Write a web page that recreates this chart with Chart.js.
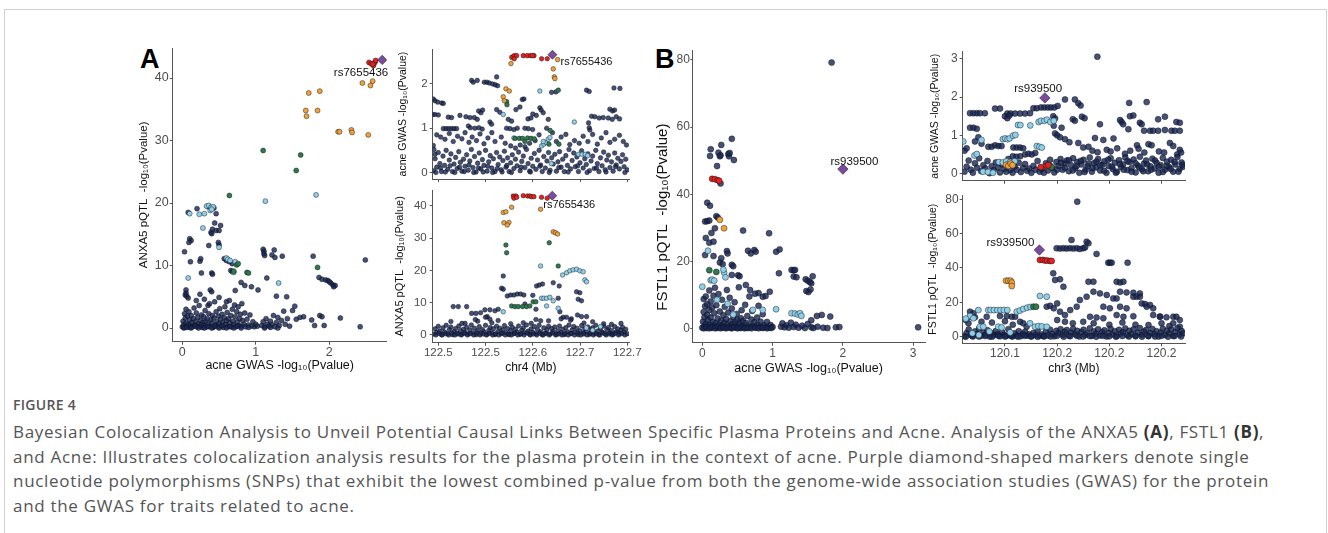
<!DOCTYPE html>
<html>
<head>
<meta charset="utf-8">
<script src="https://cdn.jsdelivr.net/npm/chart.js@4.4.1/dist/chart.umd.min.js"></script>
<style>
  html, body { margin: 0; padding: 0; background: #fff; }
  body { width: 1328px; height: 533px; position: relative; overflow: hidden; }
  .frame { position: absolute; left: 4px; top: 9px; width: 1323px; height: 540px; border: 1px solid #d2d2d2; box-sizing: border-box; }
  canvas { position: absolute; }
  .tag { position: absolute; font: bold 27px/1 "Liberation Sans", Arial, sans-serif; color: #000; }
  .figno { position: absolute; left: 13px; top: 397px; font: 600 14px/16px "Open Sans", sans-serif; color: #555; letter-spacing: 0.3px; }
  .caption { position: absolute; left: 13px; top: 420px; font: 17px/24.7px "Open Sans", sans-serif; color: #555; white-space: nowrap; letter-spacing: 0.7px; }
  .caption b { color: #333; }
</style>
</head>
<body>
<div class="frame"></div>
<div class="tag" style="left:140px;top:46px">A</div>
<div class="tag" style="left:655px;top:46px">B</div>
<div class="figno">FIGURE 4</div>
<div class="caption">Bayesian Colocalization Analysis to Unveil Potential Causal Links Between Specific Plasma Proteins and Acne. Analysis of the ANXA5 <b>(A)</b>, FSTL1 <b>(B)</b>,<br>and Acne: Illustrates colocalization analysis results for the plasma protein in the context of acne. Purple diamond-shaped markers denote single<br>nucleotide polymorphisms (SNPs) that exhibit the lowest combined p-value from both the genome-wide association studies (GWAS) for the protein<br>and the GWAS for traits related to acne.</div>

<script>
// ---- tick values / labels ----
const gwasTicksA = [0, 1, 2];
const pqtlTicksA = [0, 10, 20, 30, 40];
const gwasRightTicksA = [0, 1, 2];
const chr4Ticks = [122.48, 122.54, 122.60, 122.66, 122.72];
const chr4Labels = ['122.5', '122.5', '122.6', '122.7', '122.7'];
const gwasTicksB = [0, 1, 2, 3];
const pqtlTicksB = [0, 20, 40, 60, 80];
const chr3Ticks = [120.14, 120.16, 120.18, 120.20];
const chr3Labels = ['120.1', '120.2', '120.2', '120.2'];

// ---- A: acne GWAS (x) vs ANXA5 pQTL (y) ----
const aLead = [[2.72, 42.9]];
const aRed = [[2.54, 42.5], [2.57, 42.3], [2.6, 42.0], [2.62, 42.5], [2.63, 42.8], [2.59, 42.2]];
const aOrange = [[2.45, 39.2], [2.59, 39.5], [2.56, 38.8], [1.72, 37.6], [1.87, 37.9], [1.68, 34.8], [1.69, 33.9], [1.84, 34.8], [2.12, 31.4], [2.14, 31.4], [2.3, 31.7], [2.31, 31.3], [2.53, 30.9]];
const aGreen = [[1.1, 28.4], [1.61, 27.7], [1.55, 25.2], [0.64, 21.2], [0.74, 10.1], [0.76, 10.3], [0.88, 8.9], [0.9, 8.8], [0.7, 9.1], [1.84, 9.7]];
const aLblue = [[0.1, 18.3], [0.23, 18.2], [0.3, 18.3], [0.33, 19.5], [0.36, 19.6], [0.39, 19.3], [0.42, 19.4], [0.38, 18.8], [0.4, 19.0], [0.28, 16.0], [0.5, 12.9], [0.6, 11.2], [0.62, 11.0], [0.65, 10.8], [0.72, 10.6], [0.08, 8.0], [0.7, 8.9], [1.13, 20.3], [1.82, 21.3], [1.31, 7.2]];
const aNavy = [
  [0.08, 18.5], [0.2, 19.1], [0.35, 19.4], [0.46, 18.3], [0.43, 19.2], [0.1, 14.3], [0.12, 14.0], [0.09, 13.7], [0.03, 12.2],
  [0.11, 10.6], [0.24, 10.7], [0.25, 11.1], [0.26, 8.8], [0.4, 8.8], [0.41, 8.6], [0.39, 15.3], [0.41, 15.8], [0.46, 15.6],
  [0.5, 15.6], [0.4, 15.1], [0.52, 16.4], [0.44, 16.8], [0.36, 13.2], [0.49, 13.7], [0.5, 13.3], [0.57, 11.1], [0.6, 10.8],
  [0.64, 10.6], [0.68, 10.3], [0.66, 9.2], [0.68, 9.0], [1.1, 12.6], [1.11, 12.3], [1.11, 11.9], [1.12, 11.6], [1.25, 12.5],
  [1.22, 11.7], [1.26, 11.3], [1.36, 11.5], [1.78, 11.5], [2.49, 10.9], [1.86, 8.1], [1.9, 7.8], [1.95, 7.7], [1.98, 7.6],
  [2.02, 7.2], [2.05, 6.9], [2.08, 6.8], [2.06, 6.6], [2.0, 7.4], [1.15, 8.0], [1.03, 6.1], [0.85, 6.8], [0.94, 6.6],
  [0.72, 6.0], [0.8, 7.3], [1.28, 5.1], [1.42, 5.0], [1.53, 3.5], [1.6, 1.7], [1.65, 1.8], [1.76, 1.3], [1.8, 0.4],
  [1.87, 2.0], [1.9, 1.8], [1.93, 0.4], [2.15, 1.6], [2.42, 0.2], [0.04, 5.3], [0.05, 5.6], [0.06, 5.1], [0.05, 6.1],
  [0.08, 4.8], [0.24, 5.4], [0.38, 6.1], [0.4, 5.8], [0.19, 4.4], [0.3, 4.6], [0.5, 4.9], [0.6, 4.2], [0.35, 3.6],
  [0.0, 0.2], [0.01, 1.1], [0.02, 0.5], [0.03, 2.3], [0.03, 0.1], [0.04, 1.6], [0.05, 0.8], [0.05, 3.0], [0.06, 0.3],
  [0.07, 1.9], [0.08, 0.6], [0.09, 2.6], [0.1, 0.1], [0.1, 1.3], [0.11, 0.4], [0.12, 2.0], [0.13, 0.9], [0.14, 0.2],
  [0.15, 1.5], [0.16, 3.2], [0.17, 0.5], [0.18, 1.0], [0.19, 2.4], [0.2, 0.2], [0.21, 1.7], [0.22, 0.7], [0.23, 3.6],
  [0.24, 0.3], [0.25, 1.2], [0.26, 2.1], [0.27, 0.1], [0.28, 0.9], [0.29, 1.8], [0.3, 0.4], [0.31, 2.8], [0.32, 1.1],
  [0.33, 0.2], [0.34, 1.5], [0.35, 0.6], [0.36, 2.3], [0.37, 3.9], [0.38, 0.3], [0.39, 1.3], [0.4, 0.8], [0.41, 2.0],
  [0.42, 0.1], [0.43, 1.6], [0.44, 4.2], [0.45, 0.5], [0.46, 2.6], [0.47, 1.0], [0.48, 0.2], [0.49, 1.9], [0.5, 0.7],
  [0.51, 3.1], [0.52, 1.4], [0.53, 0.3], [0.54, 2.2], [0.55, 0.9], [0.56, 0.1], [0.57, 1.7], [0.58, 3.4], [0.59, 0.6],
  [0.6, 1.2], [0.61, 2.5], [0.62, 0.3], [0.63, 1.5], [0.64, 4.4], [0.65, 0.8], [0.66, 2.0], [0.67, 0.2], [0.68, 3.0],
  [0.69, 1.1], [0.7, 0.5], [0.71, 3.7], [0.72, 1.8], [0.73, 0.2], [0.74, 2.6], [0.75, 1.0], [0.76, 3.4], [0.77, 0.4],
  [0.78, 1.5], [0.79, 2.2], [0.8, 0.3], [0.81, 3.9], [0.82, 1.2], [0.84, 0.6], [0.85, 2.4], [0.86, 0.2], [0.88, 1.4],
  [0.9, 0.5], [0.92, 2.1], [0.94, 0.3], [0.96, 1.0], [0.98, 0.2], [1.0, 0.6], [1.02, 0.3], [1.08, 0.4], [1.1, 1.0],
  [1.12, 0.2], [1.14, 1.5], [1.16, 0.6], [1.18, 0.3], [1.2, 1.1], [1.22, 0.5], [1.24, 2.0], [1.26, 0.2], [1.28, 0.9],
  [1.3, 1.7], [1.32, 0.4], [1.35, 1.2], [1.38, 2.7], [1.4, 0.6], [1.43, 1.5], [1.46, 0.3], [1.5, 2.8], [1.55, 1.4],
  [0.02, 0.0], [0.06, 0.1], [0.12, 0.0], [0.18, 0.3], [0.22, 0.0], [0.26, 0.5], [0.3, 0.0], [0.35, 0.2], [0.4, 0.0],
  [0.44, 0.3], [0.5, 0.0], [0.54, 0.4], [0.6, 0.0], [0.65, 0.2], [0.7, 0.0], [0.75, 0.3], [0.8, 0.0], [0.9, 0.1],
  [1.12, 0.0], [1.2, 0.1], [1.3, 0.0]
];

// ---- A: chr4 position (x) vs acne GWAS (y) ----
const atLead = [[122.625, 2.66]];
const atRed = [[122.5744, 2.61], [122.5765, 2.64], [122.5795, 2.64], [122.5765, 2.57], [122.5879, 2.64], [122.593, 2.64], [122.5972, 2.64], [122.6015, 2.64], [122.5995, 2.64], [122.6112, 2.57], [122.6184, 2.57]];
const atOrange = [[122.5731, 2.6], [122.5723, 2.46], [122.5659, 1.89], [122.5702, 1.84], [122.5625, 1.71], [122.5638, 1.62], [122.626, 2.34], [122.6273, 2.16], [122.6281, 2.12], [122.6315, 2.55]];
const atGreen = [[122.5668, 1.6], [122.5672, 1.53], [122.6324, 1.86], [122.5774, 0.77], [122.5829, 0.77], [122.5871, 0.77], [122.5934, 0.78], [122.5977, 0.77], [122.6019, 0.76], [122.59, 0.7], [122.6205, 0.64], [122.6332, 0.64], [122.622, 0.95]];
const atLblue = [[122.5625, 1.31], [122.609, 1.84], [122.6527, 1.14], [122.6112, 0.6], [122.6142, 0.64], [122.6167, 0.68], [122.6197, 0.75], [122.6218, 0.79], [122.6133, 0.7], [122.658, 0.41], [122.6625, 0.41], [122.6667, 0.41], [122.6697, 0.38], [122.6235, 0.2], [122.576, 0.78]];
const atNavy = [
  [122.4737, 1.66], [122.4758, 1.62], [122.4792, 1.59], [122.4843, 1.57], [122.4864, 1.56], [122.4729, 1.31], [122.4758, 1.31],
  [122.4801, 1.3], [122.4927, 1.25], [122.4969, 1.24], [122.4864, 0.99], [122.4898, 0.99], [122.4932, 0.99], [122.4966, 0.99],
  [122.5, 0.99], [122.5033, 0.99], [122.4737, 0.61], [122.4745, 0.52], [122.4758, 0.41], [122.5223, 2.08], [122.5244, 2.04],
  [122.5295, 2.08], [122.5384, 2.04], [122.5418, 2.04], [122.5448, 2.02], [122.549, 2.0], [122.5524, 1.98], [122.5554, 1.96],
  [122.5541, 2.16], [122.5312, 1.39], [122.5342, 1.35], [122.5363, 1.41], [122.5075, 1.29], [122.5151, 1.26], [122.5202, 1.24],
  [122.5257, 1.24], [122.5295, 1.2], [122.5182, 1.05], [122.5207, 1.01], [122.5456, 1.14], [122.5477, 1.09], [122.5541, 1.42],
  [122.5583, 1.36], [122.5786, 1.42], [122.5837, 1.48], [122.5867, 1.65], [122.5888, 1.66], [122.5689, 1.2], [122.5731, 1.16],
  [122.5939, 1.21], [122.5977, 1.23], [122.6, 1.32], [122.6045, 1.29], [122.609, 1.46], [122.6107, 1.41], [122.6133, 1.35],
  [122.6239, 1.81], [122.6294, 1.82], [122.6683, 1.86], [122.6717, 1.83], [122.7031, 1.91], [122.7107, 1.9], [122.6747, 1.27],
  [122.6789, 1.26], [122.6844, 1.23], [122.6895, 1.24], [122.6958, 1.23], [122.7009, 1.2], [122.706, 1.26], [122.7102, 1.21],
  [122.6979, 1.43], [122.7013, 1.39], [122.7039, 1.41], [122.6708, 1.12], [122.6717, 1.01], [122.6725, 0.96], [122.6176, 1.0],
  [122.6197, 1.2], [122.59, 1.0], [122.5943, 0.99], [122.5998, 0.97], [122.5667, 1.0], [122.571, 0.99], [122.5761, 0.97],
  [122.5803, 1.0], [122.5265, 1.0], [122.5316, 1.01], [122.5358, 0.98],
  [122.478, 0.85], [122.483, 0.8], [122.4885, 0.75], [122.494, 0.88], [122.499, 0.7], [122.5045, 0.82], [122.51, 0.76],
  [122.514, 0.9], [122.519, 0.68], [122.523, 0.8], [122.5285, 0.72], [122.533, 0.87], [122.538, 0.65], [122.543, 0.78],
  [122.548, 0.9], [122.552, 0.7], [122.56, 0.8], [122.565, 0.66], [122.572, 0.6], [122.578, 0.55], [122.584, 0.62],
  [122.59, 0.58], [122.596, 0.66], [122.603, 0.72], [122.608, 0.85], [122.625, 0.9], [122.63, 0.7], [122.636, 0.8],
  [122.642, 0.86], [122.647, 0.63], [122.653, 0.72], [122.659, 0.66], [122.664, 0.82], [122.67, 0.7], [122.676, 0.86],
  [122.682, 0.64], [122.687, 0.78], [122.693, 0.9], [122.698, 0.68], [122.704, 0.75], [122.71, 0.84], [122.715, 0.7], [122.719, 0.62],
  [122.474, 0.04], [122.476, 0.31], [122.478, 0.12], [122.48, 0.45], [122.482, 0.2], [122.484, 0.02], [122.486, 0.37],
  [122.488, 0.16], [122.49, 0.5], [122.492, 0.07], [122.494, 0.28], [122.496, 0.42], [122.498, 0.02], [122.5, 0.19],
  [122.502, 0.34], [122.504, 0.09], [122.506, 0.47], [122.508, 0.23], [122.51, 0.03], [122.512, 0.3], [122.514, 0.14],
  [122.516, 0.4], [122.518, 0.05], [122.52, 0.26], [122.522, 0.52], [122.524, 0.11], [122.526, 0.36], [122.528, 0.01],
  [122.53, 0.21], [122.532, 0.44], [122.534, 0.08], [122.536, 0.29], [122.538, 0.16], [122.54, 0.5], [122.542, 0.03],
  [122.544, 0.24], [122.546, 0.38], [122.548, 0.1], [122.55, 0.31], [122.552, 0.02], [122.554, 0.45], [122.556, 0.18],
  [122.558, 0.35], [122.56, 0.06], [122.562, 0.27], [122.564, 0.48], [122.566, 0.12], [122.568, 0.33], [122.57, 0.02],
  [122.572, 0.22], [122.574, 0.4], [122.576, 0.09], [122.578, 0.3], [122.58, 0.15], [122.582, 0.46], [122.584, 0.04],
  [122.586, 0.25], [122.588, 0.37], [122.59, 0.11], [122.592, 0.52], [122.594, 0.2], [122.596, 0.03], [122.598, 0.32],
  [122.6, 0.14], [122.602, 0.43], [122.604, 0.07], [122.606, 0.28], [122.608, 0.5], [122.61, 0.17], [122.612, 0.02],
  [122.614, 0.36], [122.616, 0.1], [122.618, 0.26], [122.62, 0.45], [122.622, 0.05], [122.624, 0.33], [122.626, 0.19],
  [122.628, 0.41], [122.63, 0.03], [122.632, 0.24], [122.634, 0.47], [122.636, 0.12], [122.638, 0.3], [122.64, 0.02],
  [122.642, 0.38], [122.644, 0.16], [122.646, 0.52], [122.648, 0.08], [122.65, 0.27], [122.652, 0.44], [122.654, 0.13],
  [122.656, 0.35], [122.658, 0.02], [122.66, 0.22], [122.662, 0.49], [122.664, 0.1], [122.666, 0.31], [122.668, 0.18],
  [122.67, 0.42], [122.672, 0.04], [122.674, 0.26], [122.676, 0.37], [122.678, 0.09], [122.68, 0.5], [122.682, 0.2],
  [122.684, 0.02], [122.686, 0.33], [122.688, 0.15], [122.69, 0.46], [122.692, 0.06], [122.694, 0.28], [122.696, 0.39],
  [122.698, 0.11], [122.7, 0.24], [122.702, 0.03], [122.704, 0.44], [122.706, 0.17], [122.708, 0.32], [122.71, 0.08],
  [122.712, 0.25], [122.714, 0.4], [122.716, 0.13], [122.718, 0.3], [122.72, 0.06],
  [122.477, 0.0], [122.483, 0.1], [122.489, 0.01], [122.495, 0.15], [122.501, 0.0], [122.507, 0.12], [122.513, 0.02],
  [122.519, 0.17], [122.525, 0.0], [122.531, 0.1], [122.537, 0.01], [122.543, 0.14], [122.549, 0.0], [122.555, 0.09],
  [122.561, 0.01], [122.567, 0.16], [122.573, 0.0], [122.585, 0.12], [122.597, 0.01], [122.609, 0.14], [122.621, 0.0],
  [122.633, 0.11], [122.645, 0.01], [122.657, 0.15], [122.669, 0.0], [122.681, 0.1], [122.693, 0.01], [122.705, 0.13], [122.717, 0.0]
];

// ---- A: chr4 position (x) vs ANXA5 pQTL (y) ----
const abLead = [[122.6247, 43.2]];
const abRed = [[122.5752, 43.1], [122.5786, 43.1], [122.5761, 42.4], [122.5795, 42.7], [122.5879, 43.2], [122.5934, 43.1], [122.5963, 43.1], [122.5984, 42.9], [122.6014, 42.9], [122.6111, 42.7], [122.6183, 42.4]];
const abOrange = [[122.5625, 38.0], [122.5659, 38.2], [122.5731, 39.6], [122.5633, 34.8], [122.5697, 34.9], [122.5676, 34.1], [122.6099, 39.0], [122.626, 32.0], [122.6289, 31.7], [122.6315, 31.3]];
const abGreen = [[122.5659, 27.9], [122.5668, 25.5], [122.6209, 28.6], [122.6323, 21.4], [122.5731, 9.0], [122.5773, 8.8], [122.5815, 8.8], [122.587, 8.8], [122.5921, 8.8], [122.5963, 9.0], [122.6005, 10.3], [122.6039, 10.3]];
const abLblue = [[122.6099, 21.4], [122.5625, 7.2], [122.6111, 11.4], [122.6141, 11.4], [122.6175, 11.4], [122.6217, 11.7], [122.626, 10.6], [122.6175, 9.0], [122.6323, 8.3], [122.6378, 18.6], [122.6429, 19.3], [122.6471, 19.9], [122.6513, 20.2], [122.6556, 20.4], [122.6598, 19.9], [122.664, 19.6], [122.6661, 17.1], [122.6683, 16.5], [122.668, 2.2], [122.676, 1.5], [122.686, 2.6]];
const abNavy = [
  [122.5625, 18.3], [122.5604, 14.5], [122.5625, 14.2], [122.5676, 12.1], [122.5718, 12.4], [122.576, 12.4], [122.5803, 12.7],
  [122.5845, 12.7], [122.5887, 12.4], [122.6048, 15.2], [122.6082, 15.5], [122.6124, 15.8], [122.626, 16.2], [122.6336, 15.2],
  [122.6556, 13.4], [122.6598, 13.1], [122.6577, 11.1], [122.6619, 10.6], [122.6568, 6.2], [122.6619, 5.7], [122.6683, 5.7],
  [122.499, 8.8], [122.5054, 8.8], [122.516, 8.8], [122.5223, 6.7], [122.5278, 6.7], [122.5337, 6.9], [122.5392, 7.8],
  [122.5456, 7.8], [122.5519, 7.5], [122.5561, 8.0], [122.5422, 5.7], [122.5456, 4.9], [122.6323, 11.4], [122.6344, 7.2],
  [122.6386, 5.5], [122.6429, 5.5], [122.649, 5.0], [122.62, 4.4], [122.604, 4.8], [122.588, 3.8], [122.53, 4.3],
  [122.514, 3.6], [122.59, 9.6], [122.604, 8.0], [122.6, 12.3],
  [122.474, 0.3], [122.476, 1.9], [122.478, 0.8], [122.48, 2.7], [122.482, 1.2], [122.484, 0.1], [122.486, 2.2], [122.488, 0.9],
  [122.49, 3.0], [122.492, 0.4], [122.494, 1.7], [122.496, 2.5], [122.498, 0.1], [122.5, 1.1], [122.502, 2.0], [122.504, 0.5],
  [122.506, 2.8], [122.508, 1.4], [122.51, 0.2], [122.512, 1.8], [122.514, 0.8], [122.516, 2.4], [122.518, 0.3], [122.52, 1.6],
  [122.522, 3.1], [122.524, 0.7], [122.526, 2.1], [122.528, 0.1], [122.53, 1.3], [122.532, 2.6], [122.534, 0.5], [122.536, 1.7],
  [122.538, 1.0], [122.54, 3.0], [122.542, 0.2], [122.544, 1.4], [122.546, 2.3], [122.548, 0.6], [122.55, 1.9], [122.552, 0.1],
  [122.554, 2.7], [122.556, 1.1], [122.558, 2.1], [122.56, 0.4], [122.562, 1.6], [122.564, 2.9], [122.566, 0.7], [122.568, 2.0],
  [122.57, 0.1], [122.572, 1.3], [122.574, 2.4], [122.576, 0.5], [122.578, 1.8], [122.58, 0.9], [122.582, 2.8], [122.584, 0.2],
  [122.586, 1.5], [122.588, 2.2], [122.59, 0.7], [122.592, 3.1], [122.594, 1.2], [122.596, 0.2], [122.598, 1.9], [122.6, 0.8],
  [122.602, 2.6], [122.604, 0.4], [122.606, 1.7], [122.608, 3.0], [122.61, 1.0], [122.612, 0.1], [122.614, 2.2], [122.616, 0.6],
  [122.618, 1.6], [122.62, 2.7], [122.622, 0.3], [122.624, 2.0], [122.626, 1.1], [122.628, 2.5], [122.63, 0.2], [122.632, 1.4],
  [122.634, 2.8], [122.636, 0.7], [122.638, 1.8], [122.64, 0.1], [122.642, 2.3], [122.644, 1.0], [122.646, 3.1], [122.648, 0.5],
  [122.65, 1.6], [122.652, 2.6], [122.654, 0.8], [122.656, 2.1], [122.658, 0.1], [122.66, 1.3], [122.662, 2.9], [122.664, 0.6],
  [122.666, 1.9], [122.668, 1.1], [122.67, 2.5], [122.672, 0.2], [122.674, 1.6], [122.676, 2.2], [122.678, 0.5], [122.68, 3.0],
  [122.682, 1.2], [122.684, 0.1], [122.686, 2.0], [122.688, 0.9], [122.69, 2.8], [122.692, 0.4], [122.694, 1.7], [122.696, 2.3],
  [122.698, 0.7], [122.7, 1.4], [122.702, 0.2], [122.704, 2.6], [122.706, 1.0], [122.708, 1.9], [122.71, 0.5], [122.712, 1.5],
  [122.714, 2.4], [122.716, 0.8], [122.718, 1.8], [122.72, 0.4],
  [122.477, 0.0], [122.481, 0.5], [122.485, 0.0], [122.489, 0.4], [122.493, 0.0], [122.497, 0.6], [122.501, 0.0], [122.505, 0.3],
  [122.509, 0.0], [122.513, 0.5], [122.517, 0.0], [122.521, 0.4], [122.525, 0.0], [122.529, 0.6], [122.533, 0.0], [122.537, 0.3],
  [122.541, 0.0], [122.545, 0.5], [122.549, 0.0], [122.553, 0.4], [122.557, 0.0], [122.561, 0.6], [122.565, 0.0], [122.569, 0.3],
  [122.573, 0.0], [122.577, 0.5], [122.581, 0.0], [122.585, 0.4], [122.589, 0.0], [122.593, 0.6], [122.597, 0.0], [122.601, 0.3],
  [122.605, 0.0], [122.609, 0.5], [122.613, 0.0], [122.617, 0.4], [122.621, 0.0], [122.625, 0.6], [122.629, 0.0], [122.633, 0.3],
  [122.637, 0.0], [122.641, 0.5], [122.645, 0.0], [122.649, 0.4], [122.653, 0.0], [122.657, 0.6], [122.661, 0.0], [122.665, 0.3],
  [122.669, 0.0], [122.673, 0.5], [122.677, 0.0], [122.681, 0.4], [122.685, 0.0], [122.689, 0.6], [122.693, 0.0], [122.697, 0.3],
  [122.701, 0.0], [122.705, 0.5], [122.709, 0.0], [122.713, 0.4], [122.717, 0.0],
  [122.496, 4.2], [122.51, 3.6], [122.527, 4.8], [122.54, 5.5], [122.548, 3.8], [122.556, 4.5], [122.572, 3.5], [122.598, 3.6],
  [122.61, 4.4], [122.636, 5.0], [122.648, 4.6], [122.665, 3.7], [122.676, 4.1], [122.69, 3.5], [122.7, 3.3], [122.712, 3.6]
];

// ---- B: acne GWAS (x) vs FSTL1 pQTL (y) ----
const bLead = [[2.0, 47.5]];
const bRed = [[0.14, 44.6], [0.18, 44.5], [0.22, 44.2], [0.24, 44.0]];
const bOrange = [[0.25, 32.4], [0.31, 29.9]];
const bGreen = [[0.1, 17.4], [0.2, 16.9]];
const bLblue = [[0.08, 23.2], [0.0, 12.5], [0.12, 14.4], [0.14, 14.6], [0.17, 14.3], [0.31, 16.7], [0.33, 15.3], [0.3, 17.6], [0.21, 8.6], [0.36, 7.4], [0.72, 5.6], [0.86, 5.6], [1.05, 5.8], [1.27, 4.6], [1.32, 4.5], [1.36, 4.2], [1.39, 4.6], [1.41, 3.8], [0.44, 4.2]];
const bNavy = [
  [1.84, 79.2], [3.07, 0.4], [0.12, 53.4], [0.11, 51.4], [0.23, 52.4], [0.25, 51.3], [0.26, 51.6], [0.27, 54.7], [0.42, 56.5],
  [0.45, 50.2], [0.37, 52.0], [0.38, 51.3], [0.39, 52.3], [0.21, 48.4], [0.26, 43.2], [0.07, 37.5], [0.11, 36.6], [0.04, 31.9],
  [0.07, 32.0], [0.1, 32.2], [0.2, 33.5], [0.22, 33.1], [0.18, 29.9], [0.1, 25.6], [0.16, 25.9], [0.04, 21.9], [0.35, 23.1],
  [0.36, 22.4], [0.58, 29.2], [0.95, 28.4], [0.65, 23.2], [0.69, 22.4], [0.74, 23.4], [0.76, 22.9], [1.05, 22.9], [1.1, 23.6],
  [1.09, 16.5], [1.27, 17.5], [1.3, 17.4], [1.32, 17.5], [1.3, 15.5], [1.34, 15.3], [1.47, 14.7], [1.5, 14.3], [1.53, 13.9],
  [1.55, 13.5], [1.57, 15.6], [1.48, 11.2], [1.51, 10.9], [1.54, 11.7], [0.68, 11.5], [0.25, 19.7], [0.16, 21.6], [0.42, 19.0],
  [0.44, 18.6], [0.42, 16.0], [0.51, 15.9], [0.53, 15.6], [0.96, 11.0], [0.9, 9.7], [0.86, 9.5], [1.63, 3.8], [1.7, 4.1],
  [1.82, 3.6], [1.55, 2.5], [0.05, 27.0], [0.13, 28.5], [0.29, 19.2], [0.62, 13.0], [0.8, 10.6], [0.27, 21.0],
  [0.0, 0.3], [0.01, 2.1], [0.02, 5.0], [0.02, 8.8], [0.03, 0.8], [0.03, 3.4], [0.04, 6.7], [0.05, 1.5], [0.05, 9.6], [0.06, 0.2],
  [0.07, 4.1], [0.07, 7.3], [0.08, 2.6], [0.09, 0.6], [0.1, 5.6], [0.1, 11.4], [0.11, 1.2], [0.12, 3.3], [0.12, 8.1], [0.13, 0.3],
  [0.14, 6.3], [0.15, 2.0], [0.16, 9.8], [0.17, 0.8], [0.17, 4.6], [0.18, 12.2], [0.19, 1.6], [0.2, 7.0], [0.21, 0.2], [0.22, 3.0],
  [0.23, 10.3], [0.24, 1.1], [0.25, 5.1], [0.26, 0.4], [0.27, 2.4], [0.28, 8.6], [0.29, 0.9], [0.3, 4.0], [0.31, 1.8], [0.32, 6.5],
  [0.33, 0.3], [0.34, 2.9], [0.35, 11.5], [0.36, 1.2], [0.37, 4.8], [0.38, 0.5], [0.39, 9.2], [0.4, 2.2], [0.41, 0.2], [0.42, 6.0],
  [0.43, 1.4], [0.44, 3.5], [0.45, 0.6], [0.46, 7.9], [0.47, 1.9], [0.48, 0.3], [0.49, 4.4], [0.5, 2.6], [0.51, 0.8], [0.52, 12.3],
  [0.53, 1.5], [0.54, 0.2], [0.55, 3.1], [0.56, 5.5], [0.57, 0.9], [0.58, 2.3], [0.6, 0.4], [0.61, 7.1], [0.62, 1.7], [0.63, 0.3],
  [0.64, 3.8], [0.66, 1.0], [0.67, 9.6], [0.68, 0.4], [0.7, 2.7], [0.71, 5.3], [0.72, 0.8], [0.74, 1.9], [0.75, 10.4], [0.76, 0.3],
  [0.78, 3.3], [0.79, 1.2], [0.8, 6.8], [0.82, 0.5], [0.83, 2.1], [0.85, 0.3], [0.86, 4.3], [0.88, 1.0], [0.9, 0.4], [0.92, 2.0],
  [0.95, 0.3], [0.97, 1.1], [1.0, 0.5], [1.12, 0.6], [1.14, 1.6], [1.17, 0.4], [1.2, 1.0], [1.23, 0.3], [1.26, 1.8], [1.3, 0.5],
  [1.33, 1.2], [1.37, 0.3], [1.42, 0.9], [1.46, 0.2], [1.5, 1.4], [1.55, 0.4], [1.58, 0.2], [1.64, 0.6], [1.72, 0.3], [1.78, 0.2],
  [1.9, 0.4], [1.95, 0.5], [0.02, 0.1], [0.06, 0.5], [0.1, 0.1], [0.14, 0.4], [0.18, 0.1], [0.22, 0.6], [0.26, 0.1], [0.3, 0.3],
  [0.34, 0.1], [0.38, 0.4], [0.42, 0.1], [0.46, 0.5], [0.5, 0.1], [0.55, 0.3], [0.6, 0.1], [0.65, 0.2], [0.7, 0.1], [0.75, 0.4],
  [0.8, 0.1], [0.86, 0.2], [0.92, 0.1], [0.98, 0.2]
];

// ---- B: chr3 position (x) vs acne GWAS (y) ----
const btLead = [[120.1553, 1.98]];
const btRed = [[120.1537, 0.17], [120.156, 0.2], [120.1566, 0.22]];
const btGreen = [[120.1572, 0.21], [120.1578, 0.17]];
const btOrange = [[120.1404, 0.23], [120.1413, 0.2], [120.1422, 0.26], [120.1429, 0.22]];
const btLblue = [[120.124, 0.84], [120.131, 0.88], [120.1392, 0.9], [120.1401, 0.92], [120.141, 0.9], [120.1418, 0.92], [120.1431, 0.99], [120.144, 1.01], [120.145, 1.27], [120.1459, 1.27], [120.1497, 1.26], [120.1529, 1.35], [120.1538, 1.38], [120.1551, 1.38], [120.1561, 1.41], [120.1574, 1.35], [120.1587, 1.38], [120.1522, 0.72], [120.1532, 0.7], [120.1541, 0.68], [120.1377, 0.3], [120.1392, 0.29], [120.1405, 0.32], [120.142, 0.3], [120.1437, 0.32], [120.1316, 0.05], [120.1335, 0.04], [120.1354, 0.02], [120.1283, 0.47], [120.1292, 0.51]];
const btNavy = [
  [120.1754, 3.06], [120.163, 1.94], [120.1668, 1.94], [120.1681, 1.84], [120.169, 1.78], [120.1509, 1.71], [120.1522, 1.71],
  [120.1538, 1.73], [120.1551, 1.73], [120.1564, 1.73], [120.1576, 1.73], [120.1589, 1.73], [120.1602, 1.77], [120.1362, 1.7],
  [120.1381, 1.7], [120.1266, 1.58], [120.1279, 1.58], [120.1292, 1.58], [120.1304, 1.58], [120.1323, 1.58], [120.1409, 1.57],
  [120.1422, 1.57], [120.1439, 1.57], [120.1458, 1.57], [120.1477, 1.57], [120.1496, 1.58], [120.14, 1.5], [120.1409, 1.45],
  [120.1417, 1.52], [120.1764, 1.29], [120.1873, 1.16], [120.1933, 1.12], [120.1956, 1.12], [120.1968, 1.12], [120.1987, 1.12],
  [120.2013, 1.14], [120.2038, 1.12], [120.2051, 1.12], [120.207, 1.12], [120.2057, 1.35], [120.207, 1.33], [120.1943, 1.87],
  [120.1876, 1.85], [120.2013, 1.49], [120.1987, 1.42], [120.1841, 1.4], [120.1847, 1.35], [120.1853, 1.29], [120.1917, 1.33],
  [120.1924, 1.29], [120.1879, 1.5], [120.1892, 1.52], [120.1695, 1.49], [120.1705, 1.45], [120.166, 1.42], [120.1668, 1.38],
  [120.1585, 1.5], [120.1592, 1.44], [120.1617, 1.2], [120.163, 0.9], [120.1647, 0.82], [120.1745, 0.93], [120.1777, 0.88],
  [120.1816, 0.92], [120.1906, 0.74], [120.1912, 0.65], [120.195, 0.77], [120.1962, 0.74], [120.2032, 0.8], [120.2045, 0.72],
  [120.207, 0.62], [120.1266, 1.2], [120.1279, 1.2], [120.1292, 1.17], [120.1245, 0.6], [120.1253, 0.66], [120.1336, 0.7],
  [120.1349, 0.7], [120.1362, 0.74], [120.1375, 0.72], [120.1387, 0.72], [120.1432, 0.68], [120.1445, 0.68], [120.1458, 0.68],
  [120.147, 0.66], [120.1298, 0.95], [120.131, 0.78], [120.1285, 0.84], [120.1477, 0.5], [120.149, 0.52], [120.1503, 0.5],
  [120.1516, 0.54], [120.1458, 0.45], [120.1443, 0.44], [120.143, 0.45], [120.1592, 1.05], [120.16, 1.0], [120.1611, 0.95],
  [120.1587, 1.25], [120.1681, 0.8], [120.17, 0.68], [120.172, 0.7], [120.1735, 0.6], [120.1755, 0.56], [120.179, 0.62],
  [120.1805, 0.58], [120.183, 0.66], [120.186, 0.52], [120.188, 0.6], [120.1934, 0.55], [120.199, 0.58], [120.201, 0.55],
  [120.206, 0.5], [120.2075, 0.55],
  [120.1245, 0.05], [120.1253, 0.18], [120.1261, 0.34], [120.1269, 0.1], [120.1277, 0.02], [120.1285, 0.27], [120.1293, 0.15],
  [120.1301, 0.4], [120.1309, 0.06], [120.1317, 0.22], [120.1325, 0.13], [120.1333, 0.33], [120.1341, 0.01], [120.1349, 0.19],
  [120.1357, 0.09], [120.1365, 0.29], [120.1373, 0.16], [120.1381, 0.03], [120.1389, 0.24], [120.1397, 0.12], [120.1405, 0.05],
  [120.1413, 0.38], [120.1421, 0.09], [120.1429, 0.02], [120.1437, 0.18], [120.1445, 0.1], [120.1453, 0.28], [120.1461, 0.04],
  [120.1469, 0.15], [120.1477, 0.25], [120.1485, 0.07], [120.1493, 0.13], [120.1501, 0.02], [120.1509, 0.2], [120.1517, 0.1],
  [120.1525, 0.33], [120.1533, 0.05], [120.1541, 0.12], [120.1549, 0.02], [120.1557, 0.27], [120.1565, 0.08], [120.1573, 0.36],
  [120.1581, 0.15], [120.1589, 0.03], [120.1597, 0.3], [120.1605, 0.2], [120.1613, 0.38], [120.1621, 0.1], [120.1629, 0.26],
  [120.1637, 0.34], [120.1645, 0.06], [120.1653, 0.22], [120.1661, 0.4], [120.1669, 0.14], [120.1677, 0.3], [120.1685, 0.02],
  [120.1693, 0.24], [120.1701, 0.36], [120.1709, 0.1], [120.1717, 0.19], [120.1725, 0.42], [120.1733, 0.05], [120.1741, 0.27],
  [120.1749, 0.16], [120.1757, 0.38], [120.1765, 0.08], [120.1773, 0.23], [120.1781, 0.32], [120.1789, 0.02], [120.1797, 0.2],
  [120.1805, 0.4], [120.1813, 0.12], [120.1821, 0.28], [120.1829, 0.05], [120.1837, 0.35], [120.1845, 0.17], [120.1853, 0.24],
  [120.1861, 0.42], [120.1869, 0.09], [120.1877, 0.3], [120.1885, 0.14], [120.1893, 0.37], [120.1901, 0.03], [120.1909, 0.21],
  [120.1917, 0.44], [120.1925, 0.11], [120.1933, 0.26], [120.1941, 0.34], [120.1949, 0.06], [120.1957, 0.19], [120.1965, 0.39],
  [120.1973, 0.13], [120.1981, 0.28], [120.1989, 0.02], [120.1997, 0.22], [120.2005, 0.41], [120.2013, 0.1], [120.2021, 0.31],
  [120.2029, 0.17], [120.2037, 0.36], [120.2045, 0.05], [120.2053, 0.24], [120.2061, 0.43], [120.2069, 0.12], [120.2077, 0.29],
  [120.2083, 0.18], [120.16, 0.1], [120.1615, 0.28], [120.163, 0.15], [120.1645, 0.35], [120.166, 0.08], [120.1675, 0.2],
  [120.169, 0.33], [120.1705, 0.04], [120.172, 0.26], [120.1735, 0.14], [120.175, 0.31], [120.1765, 0.22], [120.178, 0.07],
  [120.1795, 0.36], [120.181, 0.18], [120.1825, 0.02], [120.184, 0.25], [120.1855, 0.1], [120.187, 0.33], [120.1885, 0.05],
  [120.19, 0.27], [120.1915, 0.16], [120.193, 0.06], [120.1945, 0.24], [120.196, 0.1], [120.1975, 0.34], [120.199, 0.18],
  [120.2005, 0.04], [120.202, 0.2], [120.2035, 0.12], [120.205, 0.3], [120.2065, 0.05], [120.208, 0.23]
];

// ---- B: chr3 position (x) vs FSTL1 pQTL (y) ----
const bbLead = [[120.1532, 50.5]];
const bbRed = [[120.1534, 44.7], [120.1545, 44.7], [120.1554, 44.3], [120.1562, 44.3], [120.1573, 44.1], [120.1579, 44.1]];
const bbOrange = [[120.1404, 32.6], [120.1413, 32.6], [120.1422, 32.6], [120.1426, 31.5], [120.1426, 29.5]];
const bbGreen = [[120.1509, 17.5], [120.1519, 17.5]];
const bbLblue = [[120.1534, 23.7], [120.156, 23.3], [120.1298, 15.5], [120.1336, 15.5], [120.1345, 15.5], [120.1358, 15.5], [120.1371, 15.5], [120.1383, 15.5], [120.1396, 15.5], [120.1409, 15.5], [120.1266, 12.0], [120.1279, 10.7], [120.1445, 14.6], [120.1457, 15.2], [120.147, 16.1], [120.1485, 16.9], [120.1498, 17.3], [120.1304, 5.8], [120.1317, 5.8], [120.1374, 5.8], [120.1387, 5.4], [120.1496, 7.8], [120.1515, 5.8], [120.1528, 6.2], [120.1541, 6.0], [120.156, 5.8], [120.125, 10.5], [120.1275, 2.0], [120.13, 1.0], [120.134, 3.0], [120.142, 2.5]];
const bbNavy = [
  [120.1677, 78.6], [120.1655, 56.3], [120.1713, 55.3], [120.172, 54.4], [120.1598, 51.5], [120.1611, 51.3], [120.1624, 51.5],
  [120.1636, 51.3], [120.1649, 51.5], [120.1662, 51.3], [120.1675, 51.5], [120.1687, 51.1], [120.17, 51.5], [120.1707, 52.0],
  [120.1751, 48.2], [120.1796, 43.1], [120.1802, 43.1], [120.1809, 43.1], [120.187, 43.1], [120.1585, 36.9], [120.1592, 33.0],
  [120.1611, 33.4], [120.1624, 29.1], [120.172, 32.0], [120.1739, 32.0], [120.1828, 32.0], [120.1841, 31.6], [120.1854, 32.0],
  [120.1841, 26.2], [120.1866, 25.8], [120.1892, 25.6], [120.1917, 25.2], [120.1815, 22.3], [120.1828, 22.3], [120.1892, 23.3],
  [120.1904, 23.3], [120.1917, 23.3], [120.1924, 19.4], [120.1937, 19.0], [120.1956, 18.4], [120.1994, 11.6], [120.2019, 11.3],
  [120.2045, 11.6], [120.2045, 7.8], [120.207, 5.8], [120.1739, 26.2], [120.1764, 25.2], [120.179, 24.3], [120.1713, 23.3],
  [120.1687, 21.4], [120.1675, 17.5], [120.165, 15.5], [120.1777, 17.5], [120.1802, 16.5], [120.1841, 17.5], [120.1866, 16.5],
  [120.1943, 17.5], [120.1968, 16.5], [120.1726, 11.6], [120.1751, 11.2], [120.1777, 10.7], [120.1828, 12.6], [120.1854, 11.6],
  [120.1892, 11.9], [120.1968, 12.6], [120.1994, 11.7], [120.2057, 11.6], [120.207, 9.7], [120.1266, 11.6], [120.1285, 11.3],
  [120.133, 11.6], [120.1381, 12.0], [120.1407, 12.0], [120.1426, 11.6], [120.1439, 11.6], [120.1266, 14.6], [120.1279, 13.6],
  [120.1458, 8.7], [120.147, 7.8], [120.1483, 5.8], [120.156, 17.5], [120.1573, 18.0], [120.1587, 16.5], [120.16, 19.4],
  [120.1611, 14.6], [120.163, 12.6], [120.16, 9.7], [120.163, 8.7], [120.166, 7.8], [120.17, 8.7], [120.174, 7.8], [120.18, 7.0],
  [120.185, 8.2], [120.19, 7.0], [120.195, 6.8], [120.2, 7.8], [120.203, 6.2], [120.125, 9.7], [120.126, 7.8], [120.131, 8.7],
  [120.135, 8.2], [120.14, 9.0], [120.143, 7.0],
  [120.1245, 0.3], [120.1253, 2.1], [120.1261, 4.2], [120.1269, 1.0], [120.1277, 0.1], [120.1285, 3.1], [120.1293, 1.6],
  [120.1301, 4.8], [120.1309, 0.5], [120.1317, 2.5], [120.1325, 1.2], [120.1333, 3.8], [120.1341, 0.1], [120.1349, 2.0],
  [120.1357, 0.8], [120.1365, 3.3], [120.1373, 1.5], [120.1381, 0.2], [120.1389, 2.7], [120.1397, 1.1], [120.1405, 0.4],
  [120.1413, 4.4], [120.1421, 0.9], [120.1429, 0.1], [120.1437, 2.0], [120.1445, 0.7], [120.1453, 3.2], [120.1461, 0.3],
  [120.1469, 1.6], [120.1477, 2.9], [120.1485, 0.6], [120.1493, 1.4], [120.1501, 0.1], [120.1509, 2.2], [120.1517, 0.9],
  [120.1525, 3.8], [120.1533, 0.4], [120.1541, 1.3], [120.1549, 0.1], [120.1557, 3.0], [120.1565, 0.7], [120.1573, 4.1],
  [120.1581, 1.6], [120.1589, 0.2], [120.1597, 3.4], [120.1605, 2.2], [120.1613, 4.4], [120.1621, 1.0], [120.1629, 2.9],
  [120.1637, 3.9], [120.1645, 0.5], [120.1653, 2.4], [120.1661, 4.6], [120.1669, 1.5], [120.1677, 3.4], [120.1685, 0.1],
  [120.1693, 2.7], [120.1701, 4.1], [120.1709, 1.0], [120.1717, 2.1], [120.1725, 4.9], [120.1733, 0.4], [120.1741, 3.1],
  [120.1749, 1.7], [120.1757, 4.4], [120.1765, 0.7], [120.1773, 2.6], [120.1781, 3.7], [120.1789, 0.1], [120.1797, 2.2],
  [120.1805, 4.6], [120.1813, 1.3], [120.1821, 3.2], [120.1829, 0.4], [120.1837, 4.0], [120.1845, 1.9], [120.1853, 2.7],
  [120.1861, 4.8], [120.1869, 0.9], [120.1877, 3.4], [120.1885, 1.5], [120.1893, 4.3], [120.1901, 0.2], [120.1909, 2.4],
  [120.1917, 5.0], [120.1925, 1.2], [120.1933, 3.0], [120.1941, 3.9], [120.1949, 0.5], [120.1957, 2.1], [120.1965, 4.5],
  [120.1973, 1.4], [120.1981, 3.2], [120.1989, 0.1], [120.1997, 2.5], [120.2005, 4.7], [120.2013, 1.0], [120.2021, 3.5],
  [120.2029, 1.9], [120.2037, 4.2], [120.2045, 0.4], [120.2053, 2.7], [120.2061, 4.9], [120.2069, 1.3], [120.2077, 3.3],
  [120.2083, 2.0], [120.125, 0.0], [120.1275, 0.6], [120.13, 0.1], [120.1325, 0.4], [120.135, 0.0], [120.1375, 0.5], [120.14, 0.1],
  [120.1425, 0.3], [120.145, 0.0], [120.1475, 0.6], [120.15, 0.2], [120.1525, 0.0], [120.155, 0.4], [120.1575, 0.1], [120.16, 0.5],
  [120.1625, 0.0], [120.165, 0.3], [120.1675, 0.6], [120.17, 0.1], [120.1725, 0.4], [120.175, 0.0], [120.1775, 0.5], [120.18, 0.2],
  [120.1825, 0.0], [120.185, 0.4], [120.1875, 0.1], [120.19, 0.6], [120.1925, 0.0], [120.195, 0.3], [120.1975, 0.1], [120.2, 0.5],
  [120.2025, 0.0], [120.205, 0.4], [120.2075, 0.1]
];

// ---- drawing ----
const FONT = '"Liberation Sans", Arial, sans-serif';
const AXIS = '#555';
const TICK_TEXT = '#4d4d4d';
const COL = { navy: 'rgba(22,38,82,0.8)', lblue: '#8fcfe8', green: '#2f7a4c', orange: '#f0a23a', red: '#e2231e', lead: '#7b4c9c' };
Chart.defaults.font.family = FONT;

// label next to the lead SNP
const snpLabel = {
  id: 'snpLabel',
  afterDatasetsDraw(chart, args, o) {
    if (!o || !o.text) return;
    const ctx = chart.ctx;
    ctx.save();
    ctx.font = o.size + 'px ' + FONT;
    ctx.fillStyle = '#111';
    ctx.textAlign = o.align;
    ctx.textBaseline = 'middle';
    ctx.fillText(o.text, chart.scales.x.getPixelForValue(o.at[0]) + o.dx, chart.scales.y.getPixelForValue(o.at[1]) + o.dy);
    ctx.restore();
  }
};

function sets(s, r) {
  const base = { showLine: false, pointStyle: 'circle', pointRadius: r, pointBorderWidth: 0.6, pointBorderColor: 'rgba(15,15,25,0.75)' };
  // first in the list is drawn last (on top)
  return [
    { data: s.lead, pointStyle: 'rectRot', pointRadius: r + 2.2, pointBackgroundColor: COL.lead, pointBorderColor: '#2a1a3a' },
    { data: s.red, pointBackgroundColor: COL.red },
    { data: s.orange, pointBackgroundColor: COL.orange },
    { data: s.green, pointBackgroundColor: COL.green },
    { data: s.lblue, pointBackgroundColor: COL.lblue },
    { data: s.navy, pointBackgroundColor: COL.navy }
  ].map(d => Object.assign({}, base, d));
}

function axis(a, fit, horizontal) {
  return {
    type: 'linear', min: a.range[0], max: a.range[1],
    afterBuildTicks: sc => { sc.ticks = a.ticks.map(v => ({ value: v })); },
    afterFit: sc => { if (horizontal) sc.height = fit; else sc.width = fit; },
    ticks: {
      display: a.showTicks !== false, color: TICK_TEXT, font: { size: a.tickSize }, padding: a.tickPad,
      maxRotation: 0, autoSkip: false, callback: (v, i) => a.labels ? a.labels[i] : String(v)
    },
    grid: { display: true, drawOnChartArea: false, drawTicks: true, tickLength: a.tickLen || 3, color: AXIS, lineWidth: 1 },
    border: { display: true, color: AXIS, width: 1 },
    title: {
      display: !!a.title, text: a.title, color: '#111', font: { size: a.titleSize },
      padding: { top: a.titlePad, bottom: a.titlePad }
    }
  };
}

function panel(g, s, r, xa, ya, label) {
  const cv = document.createElement('canvas');
  cv.width = g.w; cv.height = g.h;
  cv.style.left = g.left + 'px'; cv.style.top = g.top + 'px';
  document.body.appendChild(cv);
  const [L, T, R, B] = g.area;
  new Chart(cv, {
    type: 'scatter',
    data: { datasets: sets(s, r) },
    options: {
      responsive: false, animation: false, events: [],
      layout: {
        autoPadding: false,
        padding: { left: L - g.left - g.yw, top: T - g.top, right: g.left + g.w - R, bottom: g.top + g.h - B - g.xh }
      },
      plugins: { legend: { display: false }, tooltip: { enabled: false }, snpLabel: label },
      scales: { x: axis(xa, g.xh, true), y: axis(ya, g.yw, false) }
    },
    plugins: [snpLabel]
  });
}

const gwasTitle = 'acne GWAS -log\u2081\u2080(Pvalue)';
const anxa5Title = 'ANXA5 pQTL  -log\u2081\u2080(Pvalue)';
const fstl1Title = 'FSTL1 pQTL  -log\u2081\u2080(Pvalue)';

// A left
panel({ left: 110, top: 38, w: 300, h: 345, area: [172.7, 48, 386.7, 341.7], yw: 36, xh: 34 },
  { lead: aLead, red: aRed, orange: aOrange, green: aGreen, lblue: aLblue, navy: aNavy }, 2.5,
  { range: [-0.131, 2.781], ticks: gwasTicksA, tickSize: 12.5, tickPad: 0.8, title: gwasTitle, titleSize: 12.5, titlePad: 2.2 },
  { range: [-2.19, 44.8], ticks: pqtlTicksA, tickSize: 12.5, tickPad: 1, title: anxa5Title, titleSize: 11.5, titlePad: 0.6 },
  { text: 'rs7655436', at: aLead[0], dx: 6, dy: 13, align: 'right', size: 11.5 });

// A top right
panel({ left: 380, top: 38, w: 270, h: 150, area: [432.7, 49, 629, 180], yw: 40, xh: 5 },
  { lead: atLead, red: atRed, orange: atOrange, green: atGreen, lblue: atLblue, navy: atNavy }, 2.3,
  { range: [122.4729, 122.7222], ticks: chr4Ticks, labels: chr4Labels, showTicks: false, tickSize: 11.5, tickPad: 0 },
  { range: [-0.15, 2.79], ticks: gwasRightTicksA, tickSize: 11.5, tickPad: 2, title: gwasTitle, titleSize: 10.5, titlePad: 4 },
  { text: 'rs7655436', at: atLead[0], dx: 8, dy: 7, align: 'left', size: 11 });

// A bottom right
panel({ left: 380, top: 180, w: 270, h: 200, area: [432.7, 190, 629, 342.7], yw: 40, xh: 34 },
  { lead: abLead, red: abRed, orange: abOrange, green: abGreen, lblue: abLblue, navy: abNavy }, 2.3,
  { range: [122.4729, 122.7222], ticks: chr4Ticks, labels: chr4Labels, tickSize: 11.5, tickPad: 0, title: 'chr4 (Mb)', titleSize: 12, titlePad: 1.5 },
  { range: [-2.39, 44.96], ticks: pqtlTicksA, tickSize: 11.5, tickPad: 3, title: anxa5Title, titleSize: 11, titlePad: 0.7 },
  { text: 'rs7655436', at: abLead[0], dx: -9, dy: 9, align: 'left', size: 11 });

// B left (title sits low in the panel in the reference, hence the trailing spaces)
panel({ left: 640, top: 38, w: 310, h: 345, area: [692.3, 50, 925, 342.7], yw: 44, xh: 34 },
  { lead: bLead, red: bRed, orange: bOrange, green: bGreen, lblue: bLblue, navy: bNavy }, 3,
  { range: [-0.142, 3.168], ticks: gwasTicksB, tickSize: 12, tickPad: 0.5, title: gwasTitle, titleSize: 12.5, titlePad: 0.9 },
  { range: [-4.17, 82.95], ticks: pqtlTicksB, tickSize: 12, tickPad: 0.5, tickLen: 2, title: fstl1Title + '\u00a0'.repeat(10), titleSize: 15, titlePad: 6 },
  { text: 'rs939500', at: bLead[0], dx: 11.5, dy: -7, align: 'center', size: 11.5 });

// B top right
panel({ left: 910, top: 40, w: 300, h: 150, area: [962.7, 51.7, 1185, 182.7], yw: 40, xh: 5 },
  { lead: btLead, red: btRed, orange: btOrange, green: btGreen, lblue: btLblue, navy: btNavy }, 3,
  { range: [120.1238, 120.209], ticks: chr3Ticks, labels: chr3Labels, showTicks: false, tickSize: 12, tickPad: 0 },
  { range: [-0.19, 3.19], ticks: gwasTicksB, tickSize: 12, tickPad: 2, title: gwasTitle, titleSize: 10.5, titlePad: 6 },
  { text: 'rs939500', at: btLead[0], dx: -6.7, dy: -9.3, align: 'center', size: 11.5 });

// B bottom right
panel({ left: 910, top: 185, w: 300, h: 195, area: [962.7, 195, 1185, 343.3], yw: 40, xh: 34 },
  { lead: bbLead, red: bbRed, orange: bbOrange, green: bbGreen, lblue: bbLblue, navy: bbNavy }, 3,
  { range: [120.1238, 120.209], ticks: chr3Ticks, labels: chr3Labels, tickSize: 12, tickPad: 0, title: 'chr3 (Mb)', titleSize: 12, titlePad: 1 },
  { range: [-3.84, 82.5], ticks: pqtlTicksB, tickSize: 12, tickPad: 1, title: fstl1Title, titleSize: 10.5, titlePad: 4.3 },
  { text: 'rs939500', at: bbLead[0], dx: -5, dy: -6.7, align: 'right', size: 11.5 });
</script>
</body>
</html>
